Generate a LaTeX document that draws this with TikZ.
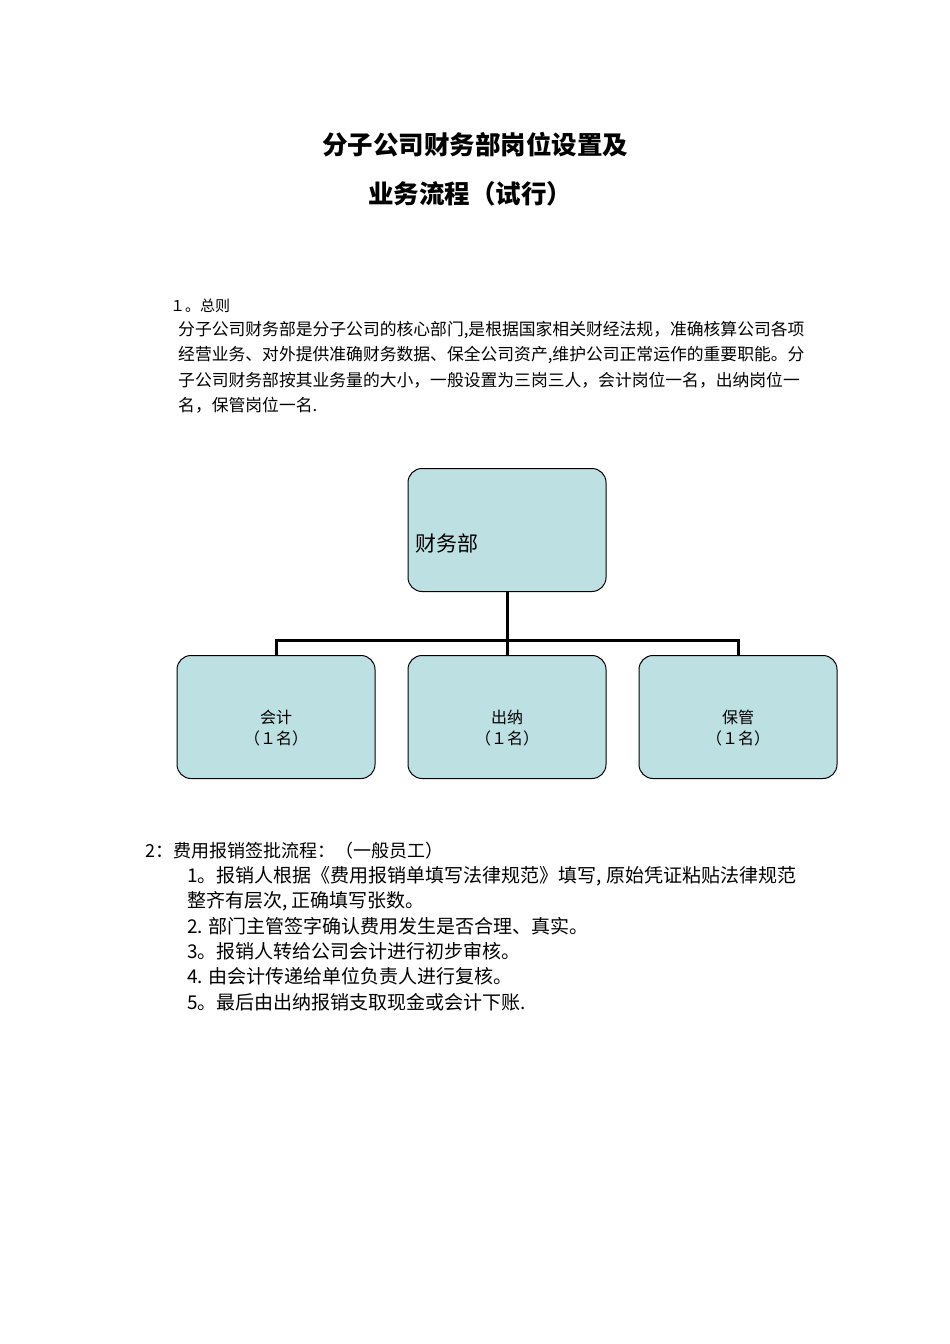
\documentclass[tikz,border=0pt]{standalone}
\usepackage{fontspec}
\newfontfamily\cjk{Noto Sans CJK SC}
\definecolor{boxfill}{HTML}{BDE0E3}
\begin{document}
\begin{tikzpicture}[x=1pt,y=-1pt,
  orgbox/.style={draw=black,line width=1pt,fill=boxfill,rounded corners=14pt,minimum width=198pt,minimum height=123pt,inner sep=0pt},
  boxtext/.style={align=center,inner sep=0pt,font=\cjk\fontsize{16}{21}\selectfont},
  conn/.style={line width=3pt},
  txt/.style={anchor=west,inner sep=0pt,font=\cjk\fontsize{16}{16}\selectfont}]
\useasboundingbox (0,0) rectangle (950,1344);
\node[inner sep=0pt,font=\cjk\bfseries\fontsize{25.5}{25.5}\selectfont] (t1) at (475,145) {分子公司财务部岗位设置及};
\node[inner sep=0pt,font=\cjk\bfseries\fontsize{25.5}{25.5}\selectfont] (t2) at (470,194) {业务流程（试行）};
\node[txt,font=\cjk\fontsize{15}{15}\selectfont] (s1) at (170,306) {１。总则};
\node[txt,font=\cjk\fontsize{16.8}{16.8}\selectfont] (p1) at (178,330) {分子公司财务部是分子公司的核心部门,是根据国家相关财经法规，准确核算公司各项};
\node[txt,font=\cjk\fontsize{16.8}{16.8}\selectfont] (p2) at (178,355) {经营业务、对外提供准确财务数据、保全公司资产,维护公司正常运作的重要职能。分};
\node[txt,font=\cjk\fontsize{16.8}{16.8}\selectfont] (p3) at (178,380) {子公司财务部按其业务量的大小，一般设置为三岗三人，会计岗位一名，出纳岗位一};
\node[txt,font=\cjk\fontsize{16.8}{16.8}\selectfont] (p4) at (178,405) {名，保管岗位一名.};
\node[orgbox] (top) at (507,530) {};
\node[txt,font=\cjk\fontsize{21}{21}\selectfont] (toptext) at (415,543) {财务部};
\node[orgbox] (a) at (276,717) {};
\node[orgbox] (b) at (507,717) {};
\node[orgbox] (c) at (738,717) {};
\node[boxtext] (at) at (276,728) {会计\\（１名）};
\node[boxtext] (bt) at (507,728) {出纳\\（１名）};
\node[boxtext] (ct) at (738,728) {保管\\（１名）};
\coordinate (j) at (507,640);
\draw[conn] (top.south) -- (j);
\draw[conn] (a.north) |- (j) -| (c.north);
\draw[conn] (j) -- (b.north);
\node[txt,font=\cjk\fontsize{18}{18}\selectfont] (s2) at (145,851) {2：费用报销签批流程：（一般员工）};
\node[txt,font=\cjk\fontsize{19}{19}\selectfont] (i1) at (187,876) {1。报销人根据《费用报销单填写法律规范》填写, 原始凭证粘贴法律规范};
\node[txt,font=\cjk\fontsize{19}{19}\selectfont] (i1b) at (187,901) {整齐有层次, 正确填写张数。};
\node[txt,font=\cjk\fontsize{19}{19}\selectfont] (i2) at (187,926) {2. 部门主管签字确认费用发生是否合理、真实。};
\node[txt,font=\cjk\fontsize{19}{19}\selectfont] (i3) at (187,951) {3。报销人转给公司会计进行初步审核。};
\node[txt,font=\cjk\fontsize{19}{19}\selectfont] (i4) at (187,976) {4. 由会计传递给单位负责人进行复核。};
\node[txt,font=\cjk\fontsize{19}{19}\selectfont] (i5) at (187,1002) {5。最后由出纳报销支取现金或会计下账.};
\end{tikzpicture}
\end{document}
